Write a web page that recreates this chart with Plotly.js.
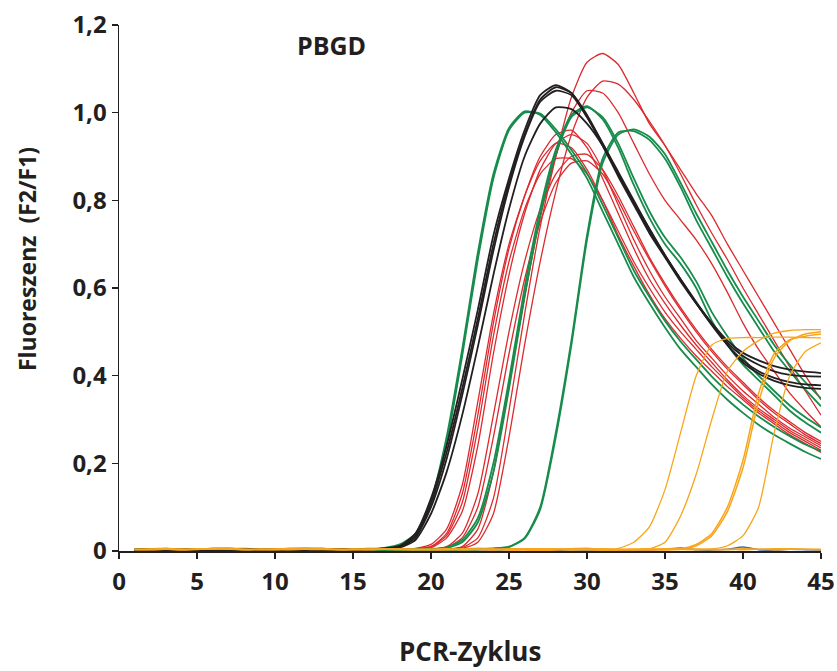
<!DOCTYPE html>
<html>
<head>
<meta charset="utf-8">
<script src="https://cdn.plot.ly/plotly-3.0.1.min.js"></script>
<style>html,body{margin:0;padding:0;background:#fff}#chart{width:837px;height:671px}</style>
</head>
<body>
<div id="chart"></div>
<script>
const cycles = [1,2,3,4,5,6,7,8,9,10,11,12,13,14,15,16,17,18,19,20,21,22,23,24,25,26,27,28,29,30,31,32,33,34,35,36,37,38,39,40,41,42,43,44,45];

const black1 = [0.003,0.003,0.004,0.003,0.003,0.003,0.003,0.004,0.003,0.003,
 0.003,0.003,0.004,0.003,0.004,0.004,0.006,0.012,0.04,0.12,
 0.24,0.39,0.55,0.72,0.85,0.96,1.04,1.063,1.045,0.99,
 0.925,0.855,0.79,0.725,0.67,0.615,0.565,0.52,0.48,0.452,
 0.435,0.422,0.414,0.409,0.406];
const black2 = [0.003,0.004,0.003,0.003,0.003,0.002,0.003,0.003,0.004,0.003,
 0.003,0.003,0.003,0.004,0.003,0.004,0.005,0.01,0.035,0.11,
 0.225,0.37,0.53,0.70,0.84,0.95,1.03,1.058,1.045,0.995,
 0.93,0.86,0.795,0.73,0.672,0.618,0.566,0.518,0.475,0.445,
 0.425,0.41,0.402,0.399,0.398];
const black3 = [0.002,0.003,0.003,0.004,0.003,0.003,0.003,0.003,0.003,0.004,
 0.003,0.003,0.003,0.003,0.004,0.004,0.005,0.009,0.03,0.1,
 0.21,0.355,0.515,0.685,0.83,0.945,1.025,1.05,1.04,0.99,
 0.93,0.865,0.80,0.735,0.675,0.62,0.565,0.515,0.47,0.435,
 0.41,0.395,0.385,0.38,0.378];
const black4 = [0.003,0.003,0.003,0.003,0.004,0.003,0.003,0.003,0.002,0.003,
 0.003,0.004,0.003,0.003,0.003,0.004,0.005,0.008,0.025,0.085,
 0.18,0.31,0.465,0.63,0.78,0.90,0.975,1.012,1.008,0.975,
 0.925,0.86,0.795,0.735,0.675,0.62,0.568,0.518,0.47,0.43,
 0.405,0.388,0.378,0.372,0.37];

const green1 = [0.003,0.004,0.003,0.003,0.003,0.003,0.002,0.003,0.003,0.003,
 0.003,0.003,0.003,0.003,0.003,0.004,0.007,0.015,0.04,0.115,
 0.26,0.46,0.68,0.86,0.965,1.003,0.995,0.955,0.905,0.85,
 0.775,0.70,0.625,0.565,0.51,0.46,0.42,0.38,0.345,0.315,
 0.288,0.265,0.245,0.226,0.21];
const green2 = [0.003,0.003,0.003,0.004,0.003,0.003,0.003,0.003,0.003,0.002,
 0.003,0.003,0.004,0.003,0.003,0.003,0.006,0.013,0.035,0.105,
 0.245,0.445,0.665,0.85,0.96,1.0,0.998,0.962,0.915,0.862,
 0.79,0.715,0.64,0.58,0.525,0.478,0.437,0.398,0.364,0.334,
 0.307,0.283,0.262,0.243,0.228];
const green3 = [0.003,0.003,0.002,0.003,0.003,0.003,0.003,0.004,0.003,0.003,
 0.003,0.003,0.003,0.003,0.003,0.003,0.003,0.003,0.004,0.004,
 0.008,0.025,0.075,0.2,0.39,0.6,0.78,0.915,0.995,1.015,
 0.985,0.92,0.835,0.76,0.70,0.655,0.60,0.525,0.47,0.425,
 0.39,0.355,0.32,0.293,0.27];
const green4 = [0.003,0.003,0.003,0.003,0.003,0.004,0.003,0.003,0.003,0.003,
 0.002,0.003,0.003,0.003,0.003,0.003,0.003,0.003,0.003,0.004,
 0.007,0.02,0.065,0.18,0.37,0.58,0.765,0.905,0.99,1.012,
 0.99,0.93,0.85,0.775,0.715,0.67,0.615,0.545,0.49,0.44,
 0.40,0.365,0.332,0.305,0.282];
const green5 = [0.003,0.003,0.003,0.003,0.003,0.003,0.003,0.003,0.004,0.003,
 0.003,0.003,0.003,0.003,0.003,0.003,0.003,0.003,0.003,0.003,
 0.003,0.004,0.004,0.006,0.01,0.03,0.1,0.27,0.48,0.72,
 0.895,0.955,0.958,0.938,0.895,0.83,0.755,0.69,0.625,0.565,
 0.51,0.455,0.41,0.368,0.33];
const green6 = [0.003,0.003,0.004,0.003,0.003,0.003,0.003,0.003,0.003,0.003,
 0.003,0.002,0.003,0.003,0.003,0.003,0.003,0.003,0.003,0.003,
 0.003,0.003,0.004,0.005,0.009,0.028,0.095,0.26,0.47,0.71,
 0.885,0.95,0.962,0.945,0.905,0.84,0.77,0.705,0.64,0.58,
 0.525,0.47,0.425,0.385,0.348];

const red1 = [0.003,0.003,0.001,0.003,0.003,0.003,0.003,0.003,0.003,0.003,
 0.003,0.003,0.003,0.005,0.003,0.003,0.003,0.004,0.006,0.015,
 0.05,0.15,0.34,0.54,0.70,0.81,0.89,0.93,0.92,0.87,
 0.80,0.72,0.65,0.585,0.53,0.485,0.445,0.41,0.375,0.345,
 0.315,0.29,0.265,0.245,0.225];
const red2 = [0.003,0.003,0.003,0.003,0.003,0.004,0.003,0.003,0.003,0.003,
 0.003,0.003,0.003,0.003,0.003,0.003,0.003,0.004,0.005,0.01,
 0.04,0.13,0.31,0.52,0.69,0.81,0.90,0.95,0.96,0.92,
 0.85,0.77,0.69,0.62,0.565,0.515,0.47,0.43,0.39,0.355,
 0.325,0.30,0.275,0.255,0.235];
const red3 = [0.003,0.003,0.003,0.003,0.003,0.003,0.003,0.003,0.003,0.003,
 0.004,0.003,0.003,0.003,0.003,0.003,0.003,0.004,0.005,0.01,
 0.035,0.11,0.28,0.49,0.66,0.78,0.86,0.895,0.895,0.86,
 0.80,0.73,0.66,0.60,0.545,0.50,0.46,0.42,0.385,0.35,
 0.32,0.295,0.27,0.25,0.23];
const red4 = [0.003,0.003,0.003,0.003,0.003,0.003,0.003,0.003,0.003,0.003,
 0.003,0.003,0.003,0.003,0.003,0.003,0.003,0.003,0.004,0.007,
 0.03,0.09,0.24,0.45,0.63,0.77,0.87,0.93,0.95,0.93,
 0.87,0.79,0.71,0.64,0.58,0.53,0.48,0.44,0.40,0.365,
 0.335,0.305,0.28,0.26,0.24];
const red5 = [0.003,0.003,0.003,0.003,0.003,0.003,0.003,0.003,0.003,0.003,
 0.003,0.003,0.003,0.003,0.003,0.003,0.003,0.003,0.003,0.004,
 0.01,0.04,0.13,0.31,0.50,0.66,0.78,0.86,0.90,0.905,
 0.87,0.81,0.74,0.67,0.61,0.555,0.505,0.46,0.42,0.385,
 0.35,0.32,0.295,0.27,0.25];
const red6 = [0.003,0.003,0.003,0.003,0.003,0.003,0.003,0.003,0.003,0.003,
 0.003,0.003,0.003,0.003,0.003,0.003,0.003,0.003,0.003,0.004,
 0.008,0.03,0.10,0.26,0.45,0.62,0.75,0.84,0.885,0.89,
 0.86,0.80,0.73,0.665,0.605,0.55,0.50,0.455,0.415,0.38,
 0.345,0.315,0.29,0.265,0.245];
const red7 = [0.003,0.003,0.003,0.003,0.003,0.003,0.003,0.003,0.003,0.003,
 0.003,0.003,0.003,0.003,0.003,0.003,0.003,0.003,0.003,0.003,
 0.004,0.008,0.03,0.12,0.32,0.54,0.74,0.9,1.035,1.115,
 1.135,1.11,1.045,0.975,0.925,0.87,0.815,0.765,0.70,0.64,
 0.58,0.52,0.46,0.40,0.345];
const red8 = [0.003,0.003,0.003,0.003,0.003,0.003,0.003,0.003,0.003,0.003,
 0.003,0.003,0.003,0.003,0.003,0.003,0.003,0.003,0.003,0.003,
 0.003,0.006,0.02,0.085,0.26,0.47,0.66,0.82,0.95,1.035,
 1.072,1.065,1.03,0.98,0.925,0.86,0.79,0.725,0.665,0.60,
 0.54,0.48,0.42,0.365,0.31];
const red9 = [0.003,0.003,0.003,0.003,0.003,0.003,0.003,0.003,0.003,0.003,
 0.003,0.003,0.003,0.003,0.003,0.003,0.003,0.003,0.003,0.003,
 0.004,0.01,0.05,0.18,0.38,0.58,0.76,0.90,1.0,1.05,
 1.045,1.0,0.93,0.86,0.80,0.755,0.71,0.655,0.59,0.52,
 0.46,0.41,0.36,0.32,0.283];

const orange1 = [0.003,0.004,0.006,0.004,0.003,0.006,0.007,0.004,0.003,0.004,
 0.006,0.007,0.004,0.003,0.004,0.005,0.004,0.003,0.003,0.004,
 0.003,0.004,0.005,0.003,0.004,0.005,0.003,0.004,0.005,0.003,
 0.003,0.006,0.02,0.055,0.14,0.27,0.40,0.47,0.485,0.487,
 0.487,0.488,0.488,0.487,0.486];
const orange2 = [0.004,0.003,0.004,0.005,0.004,0.005,0.006,0.003,0.004,0.003,
 0.005,0.006,0.005,0.003,0.003,0.004,0.005,0.004,0.003,0.003,
 0.004,0.003,0.004,0.005,0.003,0.003,0.004,0.005,0.004,0.003,
 0.003,0.003,0.004,0.005,0.02,0.08,0.175,0.30,0.41,0.455,
 0.48,0.497,0.503,0.505,0.505];
const orange3 = [0.003,0.004,0.005,0.003,0.004,0.006,0.005,0.004,0.003,0.003,
 0.004,0.005,0.006,0.004,0.003,0.004,0.004,0.005,0.004,0.003,
 0.003,0.004,0.004,0.003,0.005,0.004,0.003,0.003,0.004,0.005,
 0.003,0.003,0.003,0.003,0.004,0.005,0.015,0.04,0.10,0.207,
 0.36,0.45,0.482,0.49,0.495];
const orange4 = [0.004,0.003,0.004,0.003,0.005,0.004,0.005,0.003,0.004,0.004,
 0.003,0.004,0.005,0.003,0.004,0.003,0.004,0.004,0.003,0.004,
 0.005,0.003,0.004,0.004,0.003,0.004,0.005,0.004,0.003,0.004,
 0.003,0.003,0.003,0.003,0.003,0.004,0.012,0.035,0.09,0.19,
 0.34,0.44,0.48,0.495,0.50];
const orange5 = [0.003,0.005,0.004,0.003,0.004,0.005,0.004,0.003,0.004,0.005,
 0.006,0.004,0.003,0.004,0.005,0.003,0.004,0.003,0.004,0.003,
 0.004,0.005,0.003,0.004,0.003,0.004,0.003,0.005,0.004,0.003,
 0.003,0.003,0.003,0.003,0.003,0.003,0.004,0.005,0.012,0.035,
 0.10,0.27,0.40,0.455,0.475];
const orangeFlat1 = [0.004,0.005,0.006,0.004,0.003,0.006,0.007,0.005,0.003,0.004,
 0.006,0.007,0.006,0.003,0.004,0.006,0.005,0.004,0.003,0.004,
 0.005,0.004,0.006,0.005,0.003,0.002,0.001,0.003,0.005,0.006,
 0.004,0.003,0.004,0.005,0.003,0.005,0.004,0.003,0.004,0.003,
 0.004,0.005,0.005,0.004,0.004];
const orangeFlat2 = [0.003,0.004,0.003,0.005,0.004,0.003,0.004,0.006,0.004,0.003,
 0.004,0.003,0.005,0.004,0.003,0.004,0.003,0.005,0.004,0.003,
 0.004,0.003,0.004,0.003,0.005,0.004,0.003,0.004,0.003,0.004,
 0.005,0.004,0.003,0.004,0.005,0.004,0.003,0.004,0.003,0.005,
 0.004,0.003,0.004,0.004,0.003];
const blueFlat = [0.003,0.004,0.005,0.003,0.002,0.003,0.003,0.002,0.003,0.003,
 0.002,0.003,0.002,0.004,0.003,0.002,0.003,0.002,0.003,0.002,
 0.003,0.002,0.003,0.002,0.003,0.004,0.002,0.001,0.003,0.002,
 0.003,0.002,0.002,0.002,0.004,0.007,0.003,0.002,0.004,0.009,
 0.003,0.002,0.004,0.003,0.002];

const tickVals = [0,5,10,15,20,25,30,35,40,45];
const yTickVals = [0,0.2,0.4,0.6,0.8,1.0,1.2];
const yTickText = ['0','0,2','0,4','0,6','0,8','1,0','1,2'];

const RED = '#dc2a2e', GREEN = '#178c4c', BLACK = '#231f20', ORANGE = '#f8a51b', BLUE = '#3f6fb6';

const series = [
  {y: blueFlat, c: BLUE, w: 1.5},
  {y: orangeFlat1, c: ORANGE, w: 1.5},
  {y: orangeFlat2, c: ORANGE, w: 1.5},
  {y: red1, c: RED, w: 1.3}, {y: red2, c: RED, w: 1.3}, {y: red3, c: RED, w: 1.3},
  {y: red4, c: RED, w: 1.3}, {y: red5, c: RED, w: 1.3}, {y: red6, c: RED, w: 1.3},
  {y: red7, c: RED, w: 1.3}, {y: red8, c: RED, w: 1.3}, {y: red9, c: RED, w: 1.3},
  {y: green1, c: GREEN, w: 1.8}, {y: green2, c: GREEN, w: 1.8},
  {y: green3, c: GREEN, w: 1.8}, {y: green4, c: GREEN, w: 1.8},
  {y: green5, c: GREEN, w: 1.8}, {y: green6, c: GREEN, w: 1.8},
  {y: black1, c: BLACK, w: 1.8}, {y: black2, c: BLACK, w: 1.8},
  {y: black3, c: BLACK, w: 1.8}, {y: black4, c: BLACK, w: 1.8},
  {y: orange1, c: ORANGE, w: 1.3}, {y: orange2, c: ORANGE, w: 1.3},
  {y: orange3, c: ORANGE, w: 1.5}, {y: orange4, c: ORANGE, w: 1.5},
  {y: orange5, c: ORANGE, w: 1.3}
];

const traces = series.map(s => ({
  x: cycles, y: s.y, type: 'scatter', mode: 'lines',
  line: {color: s.c, width: s.w, shape: 'spline', smoothing: 0.6},
  hoverinfo: 'skip', showlegend: false
}));

const FONT = 'Open Sans, Liberation Sans, sans-serif';

const layout = {
  width: 837, height: 671,
  margin: {l: 119, r: 16, t: 25, b: 120},
  paper_bgcolor: '#fff', plot_bgcolor: '#fff',
  showlegend: false,
  xaxis: {
    range: [0, 45], tickvals: tickVals, ticktext: tickVals.map(String),
    showline: true, linecolor: BLACK, linewidth: 1.5,
    ticks: 'outside', ticklen: 6, tickwidth: 1.5, tickcolor: BLACK,
    ticklabelstandoff: 3,
    showgrid: false, zeroline: false,
    tickfont: {family: FONT, size: 24, color: BLACK, weight: 700}
  },
  yaxis: {
    range: [0, 1.2], tickvals: yTickVals, ticktext: yTickText,
    showline: true, linecolor: BLACK, linewidth: 1.5,
    ticks: 'outside', ticklen: 6, tickwidth: 1.5, tickcolor: BLACK,
    showgrid: false, zeroline: false,
    tickfont: {family: FONT, size: 24, color: BLACK, weight: 700}
  },
  annotations: [
    {text: 'PBGD', xref: 'paper', yref: 'paper', x: 0.302, y: 0.962,
     xanchor: 'center', yanchor: 'middle', showarrow: false,
     font: {family: FONT, size: 25, color: BLACK, weight: 700}},
    {text: 'Fluoreszenz  (F2/F1)', xref: 'paper', yref: 'paper', x: -0.131, y: 0.555,
     xanchor: 'center', yanchor: 'middle', textangle: -90, showarrow: false,
     font: {family: FONT, size: 23, color: BLACK, weight: 700}},
    {text: 'PCR-Zyklus', xref: 'paper', yref: 'paper', x: 0.5, y: -0.19,
     xanchor: 'center', yanchor: 'middle', showarrow: false,
     font: {family: FONT, size: 26, color: BLACK, weight: 700}}
  ]
};

Plotly.newPlot('chart', traces, layout, {staticPlot: true, displayModeBar: false});
</script>
</body>
</html>
